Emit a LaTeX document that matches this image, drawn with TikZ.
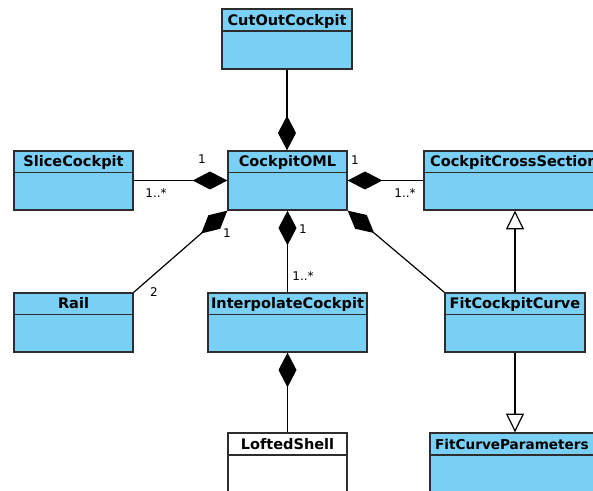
\documentclass[tikz,border=0pt]{standalone}
\usepackage{fontspec}
\setmainfont{DejaVu Sans}
\usetikzlibrary{arrows.meta,fit}
\definecolor{classblue}{RGB}{122,207,245}
\definecolor{classline}{RGB}{45,45,45}
\tikzset{
  cls/.style={draw=classline, fill=classblue, line width=1pt, inner sep=0pt},
  clsname/.style={font=\bfseries\fontsize{10.9}{12}\selectfont, inner sep=0pt, anchor=base},
  divider/.style={draw=classline, line width=1pt},
  mult/.style={font=\fontsize{9}{10}\selectfont, inner sep=0pt},
  comp/.style={line width=0.9pt, -{Diamond[length=26pt,width=13.5pt,fill=black]}},
  gen/.style={line width=0.9pt, -{Triangle[open,length=14pt,width=13.5pt,fill=white]}},
}
\begin{document}
\begin{tikzpicture}[x=0.75pt, y=-0.75pt]
                    \useasboundingbox (0,0) rectangle (593,491);
                    \clip (0,0) rectangle (593,491);
                    % classes
                    \node[cls, fit={(222,9) (352,69)}] (cut) {};
                    \draw[divider] ([yshift=-17pt]cut.north west) -- ([yshift=-17pt]cut.north east);
                    \node[clsname] (cut-t) at ([yshift=-12.6pt]cut.north) {CutOutCockpit};
                    \node[cls, fit={(228,151) (347,210)}] (oml) {};
                    \draw[divider] ([yshift=-16.5pt]oml.north west) -- ([yshift=-16.5pt]oml.north east);
                    \node[clsname] (oml-t) at ([yshift=-12.4pt]oml.north) {CockpitOML};
                    \node[cls, fit={(14,151) (133,210)}] (slice) {};
                    \draw[divider] ([yshift=-16.5pt]slice.north west) -- ([yshift=-16.5pt]slice.north east);
                    \node[clsname] (slice-t) at ([yshift=-12.4pt]slice.north) {SliceCockpit};
                    \node[cls, fit={(424,151) (604,210)}] (cross) {};
                    \draw[divider] ([yshift=-16.5pt]cross.north west) -- ([yshift=-16.5pt]cross.north east);
                    \node[clsname] (cross-t) at ([yshift=-12.4pt]cross.north) {CockpitCrossSection};
                    \node[cls, fit={(14,293) (133,352)}] (rail) {};
                    \draw[divider] ([yshift=-16.5pt]rail.north west) -- ([yshift=-16.5pt]rail.north east);
                    \node[clsname] (rail-t) at ([yshift=-12.4pt]rail.north) {Rail};
                    \node[cls, fit={(208,293) (367,352)}] (interp) {};
                    \draw[divider] ([yshift=-16.5pt]interp.north west) -- ([yshift=-16.5pt]interp.north east);
                    \node[clsname] (interp-t) at ([yshift=-12.4pt]interp.north) {InterpolateCockpit};
                    \node[cls, fit={(445,293) (585,352)}] (fitc) {};
                    \draw[divider] ([yshift=-16.5pt]fitc.north west) -- ([yshift=-16.5pt]fitc.north east);
                    \node[clsname] (fitc-t) at ([yshift=-12.4pt]fitc.north) {FitCockpitCurve};
                    \node[cls, fill=white, fit={(228,433) (347,493)}] (loft) {};
                    \draw[divider] ([yshift=-17pt]loft.north west) -- ([yshift=-17pt]loft.north east);
                    \node[clsname] (loft-t) at ([yshift=-12.6pt]loft.north) {LoftedShell};
                    \node[cls, fit={(430,433) (598,493)}] (fitp) {};
                    \draw[divider] ([yshift=-17pt]fitp.north west) -- ([yshift=-17pt]fitp.north east);
                    \node[clsname, anchor=base west, font=\bfseries\fontsize{10.2}{12}\selectfont] (fitp-t) at ([xshift=4.2pt, yshift=-12.6pt]fitp.north west) {FitCurveParameters};
                    % compositions
                    \draw[comp] (cut.south) -- (cut.south |- oml.north);
                    \draw[comp] (slice.east) -- (oml.west);
                    \draw[comp] (cross.west) -- (oml.east);
                    \draw[comp] (rail.north east) -- (oml.south west);
                    \draw[comp] (interp.north) -- (oml.south);
                    \draw[comp] (fitc.north west) -- (oml.south east);
                    \draw[comp] (loft.north) -- (interp.south);
                    % generalizations
                    \draw[gen] (fitc.north) -- (fitc.north |- cross.south);
                    \draw[gen] (fitc.south) -- (fitc.south |- fitp.north);
                    % multiplicities
                    \node[mult] (m1) at (202,159) {1};
                    \node[mult] (m2) at (156,193) {1..*};
                    \node[mult] (m3) at (355,160) {1};
                    \node[mult] (m4) at (405,193) {1..*};
                    \node[mult] (m5) at (227,233) {1};
                    \node[mult] (m6) at (154,292) {2};
                    \node[mult] (m7) at (303,229) {1};
                    \node[mult] (m8) at (303,276) {1..*};
                \end{tikzpicture}
\end{document}
